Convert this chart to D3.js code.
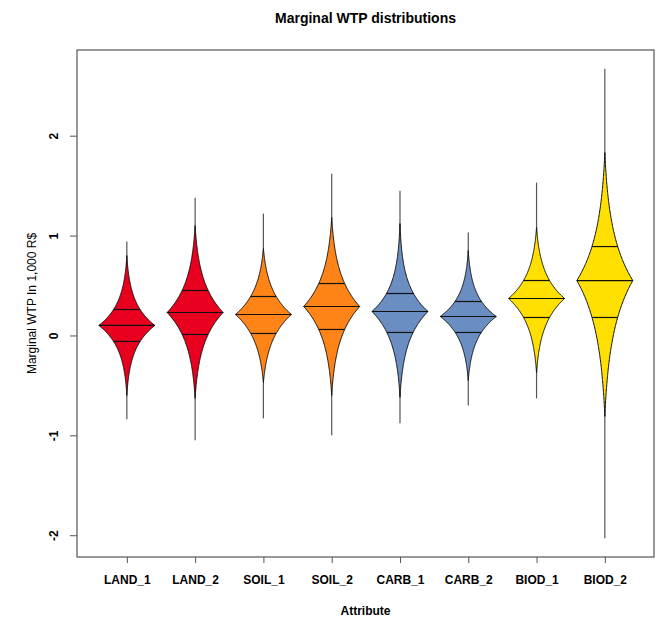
<!DOCTYPE html>
<html>
<head>
<meta charset="utf-8">
<script src="https://cdn.jsdelivr.net/npm/d3@7"></script>
<style>
  html, body { margin: 0; padding: 0; background: #fff; }
  svg text { font-family: "Liberation Sans", Arial, sans-serif; fill: #000; }
</style>
</head>
<body>
<div id="chart"></div>
<script>
"use strict";

// attributes and their colour group
var categories  = ["LAND_1", "LAND_2", "SOIL_1", "SOIL_2", "CARB_1", "CARB_2", "BIOD_1", "BIOD_2"];
var beanColors  = ["#e8001e", "#e8001e", "#ff8418", "#ff8418", "#6a8ec2", "#6a8ec2", "#ffe000", "#ffe000"];

// in 1,000 R$
var wtpMin      = [-0.84, -1.05, -0.83, -1.00, -0.88, -0.70, -0.63, -2.03];
var wtpMax      = [ 0.94,  1.38,  1.22,  1.62,  1.45,  1.03,  1.53,  2.67];
var beanLow     = [-0.60, -0.63, -0.47, -0.60, -0.62, -0.45, -0.37, -0.81];
var beanHigh    = [ 0.80,  1.10,  0.87,  1.18,  1.12,  0.85,  1.08,  1.83];
var quart1      = [-0.06,  0.01,  0.02,  0.06,  0.03,  0.03,  0.18,  0.18];
var medians     = [ 0.10,  0.23,  0.21,  0.29,  0.24,  0.19,  0.37,  0.55];
var quart3      = [ 0.26,  0.45,  0.39,  0.52,  0.42,  0.34,  0.55,  0.89];

var yTicks      = [-2, -1, 0, 1, 2];

var width  = 661;
var height = 619;
var box    = { left: 77, right: 654, top: 50, bottom: 557 };
var halfWidth = 28;

var svg = d3.select("#chart").append("svg")
  .attr("width", width)
  .attr("height", height);

var rows = categories.map(function(name, i) {
  return {
    name: name, idx: i + 1, color: beanColors[i],
    min: wtpMin[i], max: wtpMax[i], lo: beanLow[i], hi: beanHigh[i],
    q1: quart1[i], med: medians[i], q3: quart3[i]
  };
});

// R style axis range: data range plus 4% either side
var x = d3.scaleLinear().domain([0.27, 8.72]).range([box.left, box.right]);
var y = d3.scaleLinear().domain([-2.218, 2.858]).range([box.bottom, box.top]);

// bean outline: peaked shape whose width halves at the quartiles,
// pulled in so it closes to a needle at the tail ends
var rawWidth = function(d, v) {
  var spread = v >= d.med ? (d.q3 - d.med) : (d.med - d.q1);
  var b = spread / Math.LN2;
  return Math.exp(-Math.abs(v - d.med) / b);
};

var beanWidth = function(d, v) {
  var tail = rawWidth(d, v >= d.med ? d.hi : d.lo);
  return halfWidth * Math.max(0, rawWidth(d, v) - tail) / (1 - tail);
};

var beanSamples = function(d) {
  var pts = d3.range(0, 201).map(function(k) {
    return d.lo + (d.hi - d.lo) * k / 200;
  });
  pts.push(d.med);
  return pts.sort(d3.ascending);
};

// whiskers behind the beans
svg.append("g").selectAll("line")
  .data(rows)
  .enter().append("line")
  .attr("x1", function(d) { return x(d.idx); })
  .attr("x2", function(d) { return x(d.idx); })
  .attr("y1", function(d) { return y(d.min); })
  .attr("y2", function(d) { return y(d.max); })
  .attr("stroke", "#555")
  .attr("stroke-width", 1.2);

var beans = svg.append("g").selectAll("g")
  .data(rows)
  .enter().append("g");

beans.append("path")
  .attr("d", function(d) {
    var cx = x(d.idx);
    var area = d3.area()
      .y(function(v) { return y(v); })
      .x0(function(v) { return cx - beanWidth(d, v); })
      .x1(function(v) { return cx + beanWidth(d, v); });
    return area(beanSamples(d));
  })
  .attr("fill", function(d) { return d.color; })
  .attr("stroke", "#111")
  .attr("stroke-width", 1);

// median and quartile lines, cut to the bean width
beans.each(function(d) {
  var g = d3.select(this);
  var cx = x(d.idx);
  [d.q1, d.med, d.q3].forEach(function(v) {
    var w = beanWidth(d, v);
    g.append("line")
      .attr("x1", cx - w)
      .attr("x2", cx + w)
      .attr("y1", y(v))
      .attr("y2", y(v))
      .attr("stroke", "#111")
      .attr("stroke-width", 1.2);
  });
});

// frame
svg.append("rect")
  .attr("x", box.left)
  .attr("y", box.top)
  .attr("width", box.right - box.left)
  .attr("height", box.bottom - box.top)
  .attr("fill", "none")
  .attr("stroke", "#555")
  .attr("stroke-width", 1.2);

// y axis
var yAxis = svg.append("g")
  .attr("transform", "translate(" + box.left + ",0)")
  .call(d3.axisLeft(y).tickValues(yTicks).tickSize(7)
    .tickFormat(function(d) { return String(d); }));
yAxis.select(".domain").remove();
yAxis.selectAll(".tick line").attr("stroke", "#555");
yAxis.selectAll(".tick text")
  .attr("x", null)
  .attr("text-anchor", "middle")
  .attr("transform", "translate(-23,0) rotate(-90)")
  .attr("dy", "0.35em")
  .style("font-size", "12px")
  .style("font-weight", "bold");

// x axis
var xAxis = svg.append("g")
  .attr("transform", "translate(0," + box.bottom + ")")
  .call(d3.axisBottom(x).tickValues(d3.range(1, 9)).tickSize(6)
    .tickFormat(function(d) { return categories[d - 1]; }));
xAxis.select(".domain").remove();
xAxis.selectAll(".tick line").attr("stroke", "#555");
xAxis.selectAll(".tick text")
  .attr("y", 27)
  .attr("dy", null)
  .style("font-size", "12px")
  .style("font-weight", "bold");

// titles
svg.append("text")
  .attr("x", (box.left + box.right) / 2)
  .attr("y", 23)
  .attr("text-anchor", "middle")
  .style("font-size", "14px")
  .style("font-weight", "bold")
  .text("Marginal WTP distributions");

svg.append("text")
  .attr("x", (box.left + box.right) / 2)
  .attr("y", 615)
  .attr("text-anchor", "middle")
  .style("font-size", "12px")
  .style("font-weight", "bold")
  .text("Attribute");

svg.append("text")
  .attr("transform", "translate(32," + ((box.top + box.bottom) / 2) + ") rotate(-90)")
  .attr("text-anchor", "middle")
  .attr("dy", "0.35em")
  .style("font-size", "12px")
  .text("Marginal WTP In 1,000 R$");
</script>
</body>
</html>
